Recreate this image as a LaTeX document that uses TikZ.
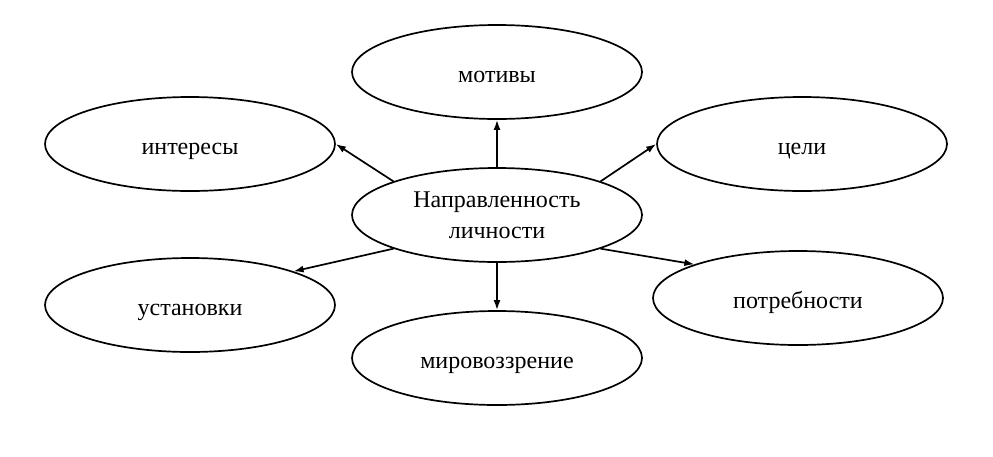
\documentclass[tikz,border=0pt]{standalone}
\usepackage{fontspec}
\setmainfont{Liberation Serif}
\usetikzlibrary{arrows.meta,shapes.geometric}
\tikzset{
  oval/.style={ellipse, draw, line width=1.7pt, minimum width=290pt, minimum height=94pt,
               inner sep=0pt, align=center, font=\fontsize{24}{31}\selectfont},
  word/.style={oval, text height=21pt, text depth=0pt},
  arr/.style={-{Latex[length=10pt,width=7pt]}, line width=1.7pt},
}
\begin{document}
\begin{tikzpicture}[x=1pt,y=-1pt]
\useasboundingbox (0,0) rectangle (993,456);
\node[oval] (dir) at (497,215) {Направленность\\личности};
\node[word] (mot) at (497,72) {мотивы};
\node[word] (intr) at (190,144) {интересы};
\node[word] (goal) at (802,144) {цели};
\node[word] (att) at (190,305) {установки};
\node[word] (need) at (798,298) {потребности};
\node[word] (view) at (497,358) {мировоззрение};
\draw[arr] (dir.north) -- (mot.south);
\draw[arr] (dir.162) -- (intr.east);
\draw[arr] (dir.18) -- (goal.west);
\draw[arr] (dir.198) -- (att.18);
\draw[arr] (dir.342) -- (need.162);
\draw[arr] (dir.south) -- (view.north);
\end{tikzpicture}
\end{document}
